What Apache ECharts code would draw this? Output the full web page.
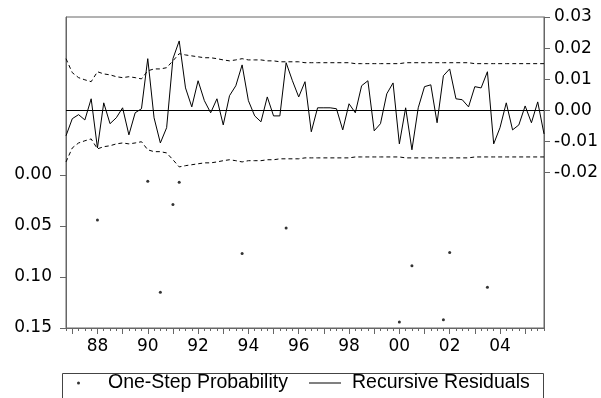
<!DOCTYPE html>
<html>
<head>
<meta charset="utf-8">
<script src="https://cdn.jsdelivr.net/npm/echarts@6/dist/echarts.min.js"></script>
<style>
  html, body { margin: 0; padding: 0; background: #fff; }
  #chart { width: 601px; height: 398px; }
</style>
</head>
<body>
<div id="chart"></div>
<script>
// quarterly sample 1986Q4 - 2005Q4
const startYear = 1986
const startQuarter = 4
const nObs = 77

// recursive residuals (right axis)
const residuals = [
  -0.0082, -0.0027, -0.0014, -0.0031, 0.0037, -0.0121, 0.0024, -0.0043, -0.0024, 0.0008,
  -0.0079, -0.0008, 0.0005, 0.0166, -0.0024, -0.0105, -0.0056, 0.0166, 0.0223, 0.0072,
  0.0011, 0.0095, 0.0031, -0.0008, 0.0037, -0.0047, 0.0047, 0.0079, 0.0146, 0.0031,
  -0.0018, -0.0037, 0.0043, -0.0018, -0.0018, 0.0153, 0.0095, 0.0043, 0.0092, -0.0069,
  0.0008, 0.0008, 0.0008, 0.0005, -0.0063, 0.0021, -0.0008, 0.0079, 0.0095, -0.0066,
  -0.0043, 0.0053, 0.0088, -0.0108, 0.0008, -0.0127, 0.0008, 0.0076, 0.0082, -0.0040,
  0.0111, 0.0133, 0.0037, 0.0034, 0.0011, 0.0076, 0.0072, 0.0124, -0.0108, -0.0056,
  0.0024, -0.0063, -0.0047, 0.0014, -0.0040, 0.0027, -0.0076
]

// +2 S.E. band
const upperBand = [
  0.0166, 0.0121, 0.0105, 0.0098, 0.0092, 0.0124, 0.0117, 0.0114, 0.0108, 0.0105,
  0.0108, 0.0105, 0.0101, 0.0127, 0.0133, 0.0133, 0.0137, 0.0159, 0.0182, 0.0178,
  0.0175, 0.0172, 0.0169, 0.0169, 0.0166, 0.0162, 0.0159, 0.0162, 0.0166, 0.0162,
  0.0162, 0.0162, 0.0159, 0.0159, 0.0156, 0.0156, 0.0156, 0.0156, 0.0153, 0.0153,
  0.0153, 0.0153, 0.0153, 0.0153, 0.0153, 0.0153, 0.0150, 0.0150, 0.0150, 0.0150,
  0.0150, 0.0150, 0.0150, 0.0150, 0.0153, 0.0153, 0.0153, 0.0153, 0.0153, 0.0153,
  0.0153, 0.0153, 0.0153, 0.0153, 0.0153, 0.0150, 0.0150, 0.0150, 0.0150, 0.0150,
  0.0150, 0.0150, 0.0150, 0.0150, 0.0150, 0.0150, 0.0150
]

// -2 S.E. band
const lowerBand = [
  -0.0166, -0.0121, -0.0105, -0.0098, -0.0092, -0.0124, -0.0117, -0.0114, -0.0108, -0.0105,
  -0.0108, -0.0105, -0.0101, -0.0127, -0.0133, -0.0133, -0.0137, -0.0159, -0.0182, -0.0178,
  -0.0175, -0.0172, -0.0169, -0.0169, -0.0166, -0.0162, -0.0159, -0.0162, -0.0166, -0.0162,
  -0.0162, -0.0162, -0.0159, -0.0159, -0.0156, -0.0156, -0.0156, -0.0156, -0.0153, -0.0153,
  -0.0153, -0.0153, -0.0153, -0.0153, -0.0153, -0.0153, -0.0150, -0.0150, -0.0150, -0.0150,
  -0.0150, -0.0150, -0.0150, -0.0150, -0.0153, -0.0153, -0.0153, -0.0153, -0.0153, -0.0153,
  -0.0153, -0.0153, -0.0153, -0.0153, -0.0153, -0.0150, -0.0150, -0.0150, -0.0150, -0.0150,
  -0.0150, -0.0150, -0.0150, -0.0150, -0.0150, -0.0150, -0.0150
]

// one-step probabilities below 0.15 (observation index, value)
const probIndex = [5, 13, 15, 17, 18, 28, 35, 53, 55, 60, 61, 67]
const probValue = [0.044, 0.006, 0.115, 0.029, 0.007, 0.077, 0.052, 0.144, 0.089, 0.142, 0.076, 0.110]

const leftTicks = [0, 0.05, 0.1, 0.15]
const rightTicks = [-0.02, -0.01, 0, 0.01, 0.02, 0.03]

const quarters = []
for (let i = 0; i < nObs; i++) {
  const q = startQuarter - 1 + i
  quarters.push((startYear + Math.floor(q / 4)) + 'Q' + ((q % 4) + 1))
}

const probData = quarters.map(() => null)
probIndex.forEach((idx, k) => { probData[idx] = probValue[k] })

const font = 'Arial, "Liberation Sans", sans-serif'
const numFont = '"DejaVu Sans", Arial, sans-serif'
const axisGrey = '#666'

const chart = echarts.init(document.getElementById('chart'), null, { renderer: 'canvas' })

const isEvenYearQ1 = (idx) => {
  const c = quarters[idx]
  return c.endsWith('Q1') && parseInt(c.slice(0, 4)) % 2 === 0
}

const legendText = { fontFamily: font, fontSize: 19.5, color: '#000' }

chart.setOption({
  animation: false,
  backgroundColor: '#fff',
  textStyle: { fontFamily: font },
  grid: {
    left: 66, right: 56, top: 17, bottom: 70,
    show: true, borderColor: axisGrey, borderWidth: 1
  },
  // legend frame
  graphic: [{
    type: 'rect', left: 60, top: 371, silent: true,
    shape: { width: 481, height: 26 },
    style: { fill: 'none', stroke: '#444', lineWidth: 1 }
  }],
  legend: [
    {
      left: 77, top: 373, padding: 0,
      itemWidth: 3, itemHeight: 3,
      textStyle: Object.assign({ padding: [0, 0, 0, 23] }, legendText),
      data: [{ name: 'One-Step Probability', icon: 'circle' }]
    },
    {
      left: 309, top: 373, padding: 0,
      itemWidth: 32, itemHeight: 1,
      textStyle: Object.assign({ padding: [0, 0, 0, 6] }, legendText),
      data: [{ name: 'Recursive Residuals', icon: 'path://M0,0L32,0L32,1L0,1Z' }]
    }
  ],
  xAxis: [
    {
      type: 'category', data: quarters, boundaryGap: false, position: 'bottom',
      axisLine: { onZero: false, lineStyle: { color: axisGrey } },
      axisTick: { interval: 0, length: 3, lineStyle: { color: axisGrey } },
      axisLabel: {
        interval: (idx) => isEvenYearQ1(idx),
        formatter: (v) => v.slice(2, 4),
        color: '#000', fontSize: 17, fontFamily: numFont, margin: 10
      },
      splitLine: { show: false }
    },
    {
      type: 'category', data: quarters, boundaryGap: false, position: 'bottom',
      axisLine: { show: false, onZero: false },
      axisTick: {
        interval: (idx) => quarters[idx].endsWith('Q1'),
        length: 6, lineStyle: { color: axisGrey }
      },
      axisLabel: { show: false },
      splitLine: { show: false }
    }
  ],
  yAxis: [
    {
      type: 'value', position: 'left', inverse: true,
      min: -0.155, max: 0.15,
      axisLine: { show: true, onZero: false, lineStyle: { color: axisGrey } },
      axisTick: { show: true, length: 6, customValues: leftTicks, lineStyle: { color: axisGrey } },
      axisLabel: {
        customValues: leftTicks, formatter: (v) => v.toFixed(2),
        color: '#000', fontSize: 17, fontFamily: numFont, margin: 14
      },
      splitLine: { show: false }
    },
    {
      type: 'value', position: 'right',
      min: -0.07, max: 0.03,
      axisLine: { show: true, onZero: false, lineStyle: { color: axisGrey } },
      axisTick: { show: true, length: 6, customValues: rightTicks, lineStyle: { color: axisGrey } },
      axisLabel: {
        customValues: rightTicks, formatter: (v) => v.toFixed(2),
        color: '#000', fontSize: 17, fontFamily: numFont, margin: 10
      },
      splitLine: { show: false }
    }
  ],
  series: [
    {
      name: 'One-Step Probability', type: 'scatter',
      xAxisIndex: 0, yAxisIndex: 0,
      data: probData, symbol: 'circle', symbolSize: 3,
      itemStyle: { color: '#000' }
    },
    {
      name: 'Recursive Residuals', type: 'line',
      xAxisIndex: 0, yAxisIndex: 1,
      data: residuals, symbol: 'none',
      lineStyle: { color: '#000', width: 1 },
      itemStyle: { color: '#000' },
      markLine: {
        silent: true, symbol: 'none', label: { show: false },
        lineStyle: { color: '#000', width: 1, type: 'solid' },
        data: [{ yAxis: 0 }]
      }
    },
    {
      name: '+2 S.E.', type: 'line',
      xAxisIndex: 0, yAxisIndex: 1,
      data: upperBand, symbol: 'none',
      lineStyle: { color: '#000', width: 1, type: [4, 3] }
    },
    {
      name: '-2 S.E.', type: 'line',
      xAxisIndex: 0, yAxisIndex: 1,
      data: lowerBand, symbol: 'none',
      lineStyle: { color: '#000', width: 1, type: [4, 3] }
    }
  ]
})
</script>
</body>
</html>
